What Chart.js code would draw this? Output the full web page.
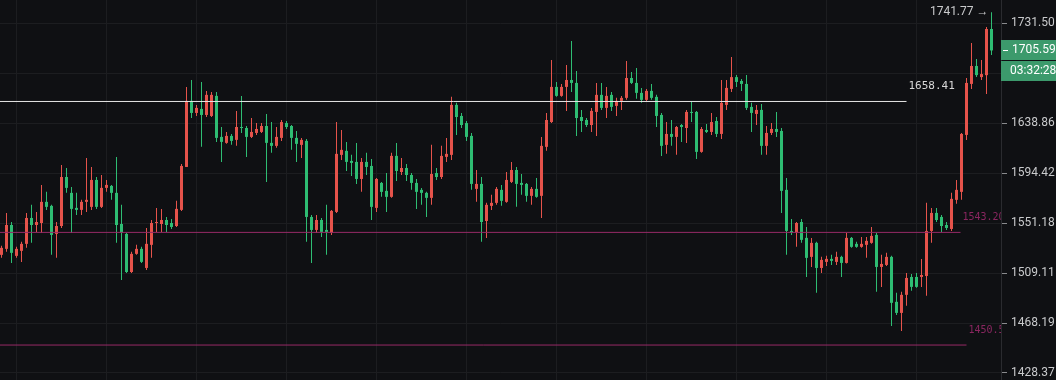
<!DOCTYPE html>
<html><head><meta charset="utf-8">
<script src="https://cdn.jsdelivr.net/npm/chart.js@4.4.1/dist/chart.umd.min.js"></script>
<style>html,body{margin:0;padding:0;background:#0f1013;overflow:hidden}#wrap{width:1056px;height:380px;position:relative}canvas{display:block}</style>
</head><body><div id="wrap"><canvas id="c" width="1056" height="380" style="width:1056px;height:380px"></canvas></div>
<script>
const opens=[1524.26,1529.30,1549.50,1523.41,1527.62,1533.51,1555.50,1549.50,1551.18,1569.34,
1565.88,1541.92,1548.66,1590.96,1577.12,1564.15,1562.42,1569.34,1565.02,1588.37,
1565.02,1581.45,1583.18,1577.12,1550.35,1541.92,1509.95,1525.10,1529.30,1513.32,
1532.67,1551.18,1550.35,1553.77,1551.18,1548.66,1562.42,1599.75,1658.96,1648.00,
1651.65,1646.17,1645.26,1663.53,1626.42,1621.08,1627.31,1623.75,1635.30,1634.42,
1626.42,1629.97,1630.86,1636.19,1621.08,1618.42,1625.53,1638.86,1636.19,1625.53,
1619.31,1622.86,1556.37,1545.29,1553.77,1545.29,1542.77,1560.69,1610.42,1613.97,
1605.09,1604.20,1589.23,1604.20,1600.64,1564.15,1585.77,1578.85,1573.66,1609.53,
1595.31,1598.86,1592.69,1585.77,1579.72,1577.12,1572.80,1594.42,1590.96,1608.64,
1610.42,1655.31,1645.26,1638.86,1627.31,1580.58,1584.91,1552.91,1565.88,1568.48,
1579.72,1569.34,1586.64,1597.09,1585.77,1584.91,1574.53,1580.58,1574.53,1617.53,
1639.77,1671.76,1663.53,1671.76,1678.15,1675.41,1644.34,1641.60,1637.08,1648.91,
1664.45,1652.57,1664.45,1654.39,1658.96,1661.71,1679.98,1675.41,1666.27,1659.88,
1668.10,1662.62,1646.17,1619.31,1629.08,1626.42,1637.08,1634.42,1648.91,1648.91,
1613.08,1632.64,1630.86,1640.69,1629.08,1655.31,1669.93,1680.80,1677.24,1674.50,
1653.48,1647.08,1650.74,1618.42,1629.97,1633.53,1631.75,1579.72,1544.45,1542.77,
1552.05,1538.56,1522.57,1534.35,1513.32,1518.37,1520.89,1518.37,1522.57,1517.52,
1538.56,1533.51,1530.99,1532.67,1534.35,1541.08,1514.16,1515.84,1522.57,1485.38,
1476.37,1491.11,1505.84,1505.84,1505.84,1506.66,1544.45,1559.83,1556.37,1549.50,
1546.13,1571.07,1577.99,1628.20,1674.51,1691.12,1680.80,1682.60,1725.87];
const highs=[1531.83,1559.83,1552.05,1530.99,1535.19,1559.83,1566.75,1560.69,1584.04,1577.99,
1566.75,1552.05,1601.53,1598.86,1582.31,1577.12,1571.07,1607.75,1599.75,1590.96,
1592.69,1588.37,1584.04,1608.64,1566.75,1542.77,1526.78,1532.67,1530.99,1546.97,
1553.77,1564.15,1563.29,1556.37,1554.64,1570.21,1602.42,1671.76,1678.15,1655.31,
1676.33,1668.10,1667.19,1667.19,1635.30,1630.86,1629.08,1649.83,1663.53,1636.19,
1643.43,1638.86,1638.86,1647.08,1639.77,1635.30,1641.60,1640.69,1637.08,1631.75,
1625.53,1624.64,1558.10,1558.10,1555.50,1566.75,1562.42,1639.77,1632.64,1621.97,
1610.42,1621.08,1607.75,1612.20,1606.86,1590.10,1586.64,1594.42,1612.20,1621.08,
1607.75,1602.42,1594.42,1589.23,1581.45,1577.99,1619.31,1598.86,1618.42,1625.53,
1662.62,1657.14,1648.00,1640.69,1629.97,1597.09,1590.96,1568.48,1575.39,1582.31,
1584.04,1595.31,1604.20,1599.75,1593.56,1585.77,1582.31,1590.10,1626.42,1648.00,
1696.76,1676.33,1674.51,1692.06,1714.60,1686.43,1650.74,1643.43,1652.57,1675.41,
1675.41,1671.76,1667.19,1661.71,1663.53,1695.82,1685.49,1689.25,1670.84,1669.93,
1674.51,1664.45,1648.00,1639.77,1641.60,1636.19,1637.97,1650.74,1658.05,1649.83,
1635.30,1637.97,1648.00,1644.34,1678.15,1678.15,1699.57,1682.64,1679.07,1682.64,
1657.14,1655.31,1656.22,1636.19,1638.86,1648.91,1634.42,1590.10,1554.64,1552.05,
1554.64,1547.82,1538.56,1535.19,1522.57,1523.41,1524.26,1526.78,1523.41,1542.77,
1539.40,1535.19,1539.40,1539.40,1547.82,1542.77,1524.26,1525.94,1523.41,1492.74,
1493.56,1509.11,1508.29,1509.11,1520.89,1568.48,1564.15,1564.15,1558.10,1552.05,
1577.12,1588.37,1629.97,1679.98,1712.72,1697.70,1696.76,1727.74,1741.77];
const lows=[1521.73,1526.78,1517.52,1521.73,1518.37,1530.15,1534.35,1543.61,1542.77,1562.42,
1524.26,1521.73,1546.97,1577.12,1542.77,1558.10,1558.10,1560.69,1562.42,1563.29,
1564.15,1577.99,1571.07,1534.35,1503.38,1509.11,1509.11,1524.26,1517.52,1511.63,
1521.73,1543.61,1543.61,1543.61,1546.13,1547.82,1561.56,1599.75,1643.43,1645.26,
1617.53,1644.34,1644.34,1621.97,1604.20,1620.20,1619.31,1618.42,1629.97,1608.64,
1625.53,1628.20,1629.97,1586.64,1612.20,1616.64,1622.86,1633.53,1614.86,1604.20,
1607.75,1535.19,1517.52,1542.77,1539.40,1524.26,1541.08,1559.83,1605.97,1596.20,
1591.83,1584.91,1577.99,1592.69,1553.77,1560.69,1573.66,1560.69,1572.80,1587.50,
1592.69,1587.50,1579.72,1563.29,1566.75,1556.37,1566.75,1588.37,1589.23,1604.20,
1605.97,1628.20,1634.42,1622.86,1579.72,1569.34,1535.19,1538.56,1562.42,1566.75,
1565.88,1568.48,1585.77,1565.02,1575.39,1569.34,1566.75,1572.80,1555.50,1613.97,
1638.86,1662.62,1662.62,1649.83,1667.19,1627.31,1630.86,1635.30,1630.86,1627.31,
1650.74,1643.43,1649.83,1645.26,1650.74,1659.88,1674.51,1660.79,1657.14,1658.96,
1659.88,1635.30,1609.53,1611.31,1618.42,1610.42,1621.97,1621.08,1639.77,1606.86,
1612.20,1629.97,1628.20,1626.42,1624.64,1650.74,1667.19,1671.76,1668.10,1650.74,
1630.86,1637.08,1610.42,1610.42,1628.20,1626.42,1559.83,1524.26,1541.08,1530.99,
1534.35,1505.84,1514.16,1492.74,1509.11,1515.00,1515.84,1515.84,1505.84,1517.00,
1530.15,1530.15,1530.15,1521.73,1533.51,1493.56,1497.65,1515.00,1465.80,1474.74,
1461.82,1482.10,1494.38,1496.83,1497.65,1490.29,1534.35,1552.05,1543.61,1545.29,
1544.45,1567.61,1571.07,1623.75,1669.93,1680.80,1678.15,1665.36,1701.45];
const closes=[1530.15,1549.50,1525.94,1529.30,1533.51,1555.50,1549.50,1552.05,1569.34,1565.02,
1541.08,1548.66,1590.96,1581.45,1563.29,1562.42,1569.34,1571.07,1588.37,1565.02,
1581.45,1584.04,1577.12,1549.50,1542.77,1509.95,1525.10,1529.30,1518.37,1533.51,
1551.18,1552.05,1553.77,1549.50,1547.82,1563.29,1600.64,1658.96,1648.00,1652.57,
1646.17,1664.45,1664.45,1625.53,1621.97,1627.31,1622.86,1635.30,1634.42,1626.42,
1630.86,1633.53,1636.19,1621.08,1618.42,1626.42,1639.77,1635.30,1625.53,1620.20,
1623.75,1556.37,1545.29,1553.77,1543.61,1543.61,1561.56,1611.31,1614.86,1604.20,
1603.31,1589.23,1604.20,1599.75,1565.02,1589.23,1577.99,1573.66,1609.53,1596.20,
1598.86,1592.69,1585.77,1577.99,1577.12,1572.80,1593.56,1590.96,1609.53,1611.31,
1655.31,1644.34,1637.08,1626.42,1584.91,1584.91,1552.05,1566.75,1568.48,1580.58,
1570.21,1588.37,1597.09,1584.91,1584.04,1574.53,1580.58,1573.66,1618.42,1641.60,
1671.76,1663.53,1671.76,1678.15,1675.41,1643.43,1640.69,1637.08,1649.83,1664.45,
1652.57,1663.53,1653.48,1658.96,1661.71,1679.98,1675.41,1666.27,1659.88,1668.10,
1661.71,1645.26,1618.42,1629.08,1626.42,1635.30,1635.30,1648.91,1648.00,1613.08,
1633.53,1630.86,1639.77,1629.08,1657.14,1670.84,1680.80,1676.33,1674.51,1652.57,
1648.00,1650.74,1618.42,1629.97,1633.53,1630.86,1578.85,1544.45,1542.77,1551.18,
1536.88,1521.73,1534.35,1513.32,1520.05,1520.89,1519.21,1522.57,1517.52,1538.56,
1530.99,1530.99,1533.51,1536.03,1540.24,1514.16,1516.68,1522.57,1484.56,1476.37,
1491.11,1505.02,1497.65,1497.65,1507.47,1544.45,1559.83,1553.77,1548.66,1546.97,
1571.94,1579.72,1629.08,1675.41,1691.12,1682.64,1683.61,1725.87,1705.59];

const priceTicks=[1428.37,1468.19,1509.11,1551.18,1594.42,1638.86,1684.55,1731.50];
const timeGridIdx=[12,30,48,66,84,102,120,138,156,174,192];
const levelValues=[1658.41,1543.2,1450.5];
const levelEnds=[181,191.8,193];
const levelLabels=['1658.41','1543.20','1450.50'];
const lastPrice=1705.59;
const countdown='03:32:28';
const highValue=1741.77;
const highIdx=198;

const UP='#e5534b', DOWN='#2ebd73';
const idx=opens.map((_,i)=>i);
const col=i=>closes[i]>=opens[i]?UP:DOWN;

const levelColors=['#e6e6e6','#962a66','#962a66'];
const levelDatasets=levelValues.map((v,j)=>({
  type:'line',order:-1,
  data:[{x:-0.3,y:v},{x:levelEnds[j],y:v}],
  borderColor:levelColors[j],borderWidth:1,pointRadius:0,fill:false,tension:0
}));

const overlay={
  id:'overlay',
  afterDatasetsDraw(chart){
    const {ctx,chartArea:a,scales:{x,y}}=chart;
    ctx.save();
    ctx.beginPath();ctx.rect(a.left,a.top,a.right-a.left,a.bottom-a.top);ctx.clip();
    ctx.textBaseline='middle';ctx.textAlign='left';
    levelValues.forEach((v,j)=>{
      const px=x.getPixelForValue(levelEnds[j])+2, py=y.getPixelForValue(v)-15;
      if(j===0){ctx.font='11px "DejaVu Sans Mono"';ctx.fillStyle='#d8d8d8';}
      else{ctx.font='10px "DejaVu Sans Mono"';ctx.fillStyle='#8a2660';}
      ctx.fillText(levelLabels[j],px,py);
    });
    ctx.font='12px Roboto';ctx.fillStyle='#c9cacc';ctx.textAlign='right';
    ctx.fillText(highValue.toFixed(2)+' →',x.getPixelForValue(highIdx)-3,y.getPixelForValue(highValue));
    ctx.restore();
  },
  afterDraw(chart){
    const {ctx,chartArea:a,scales:{y}}=chart;
    const py=Math.round(y.getPixelForValue(lastPrice));
    ctx.save();
    ctx.fillStyle='#3c9a6c';
    ctx.fillRect(a.right,py-10,chart.width-a.right,20);
    ctx.fillRect(a.right,py+11,chart.width-a.right,20);
    ctx.fillStyle='#ffffff';
    ctx.fillRect(a.right+2,py,5,1);
    ctx.font='12px Roboto';ctx.textBaseline='middle';ctx.textAlign='left';
    ctx.fillText(lastPrice.toFixed(2),a.right+11,py);
    ctx.fillText(countdown,a.right+9,py+21);
    ctx.restore();
  }
};

new Chart(document.getElementById('c'),{
  type:'bar',
  data:{datasets:[
    {order:0,grouped:false,data:idx.map(i=>({x:i,y:[opens[i],closes[i]]})),
     backgroundColor:idx.map(col),barThickness:3,minBarLength:1,borderWidth:0,inflateAmount:0},
    {order:1,grouped:false,data:idx.map(i=>({x:i,y:[lows[i],highs[i]]})),
     backgroundColor:idx.map(col),barThickness:1,borderWidth:0,inflateAmount:0},
    ...levelDatasets
  ]},
  options:{
    responsive:false,animation:false,devicePixelRatio:1,
    layout:{padding:0,autoPadding:false},
    plugins:{legend:{display:false},tooltip:{enabled:false}},
    scales:{
      x:{type:'linear',min:-0.3,max:199.9,offset:false,
        afterBuildTicks:s=>{s.ticks=timeGridIdx.map(v=>({value:v}));},
        afterFit:s=>{s.height=0;s.paddingLeft=0;s.paddingRight=0;s.paddingTop=0;s.paddingBottom=0;},
        ticks:{display:false},
        grid:{color:'#1c1d20',drawTicks:false},border:{display:false}},
      y:{type:'logarithmic',position:'right',min:1422.88,max:1753.6,
        afterBuildTicks:s=>{s.ticks=priceTicks.map(v=>({value:v}));},
        afterFit:s=>{s.width=55;s.paddingTop=0;s.paddingBottom=0;},
        ticks:{callback:v=>Number(v).toFixed(2),color:'#c9cacc',font:{family:'Roboto',size:12},padding:4,autoSkip:false,maxRotation:0},
        grid:{color:'#1c1d20',tickColor:'#8a8b8e',tickLength:6,drawTicks:true},
        border:{display:true,color:'#2a2b2f'}}
    }
  },
  plugins:[overlay]
});
</script></body></html>
